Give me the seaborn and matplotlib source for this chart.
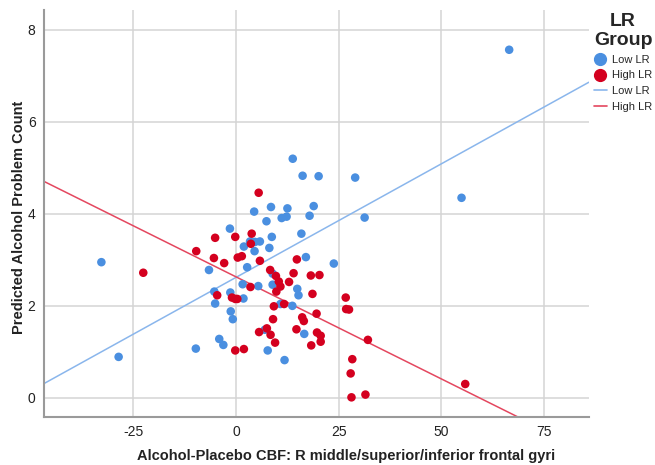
import matplotlib
matplotlib.use("Agg")
import matplotlib.pyplot as plt
from matplotlib.lines import Line2D
import pandas as pd
import seaborn as sns

# Low LR group (CBF difference, predicted count)
low_x = [66.5, 54.9, -32.8, -28.6, -9.8, 13.8, 16.2, 20.1, 29.0, 8.5, 4.4, 12.5, 18.9,
         7.4, 11.1, 12.3, 17.9, 31.3, -1.5, 8.7, 15.9, 3.4, 4.6, 5.8, 1.9, 8.1, 4.5,
         17.0, 23.8, -6.6, 2.7, 8.9, 1.6, 5.4, 8.9, 14.9, 15.2, -5.3, -1.4, 1.8, -5.1,
         10.8, 13.7, -1.3, -0.8, 7.0, 16.6, -4.1, -3.1, 7.7, 11.8]
low_y = [7.57, 4.35, 2.95, 0.89, 1.07, 5.20, 4.83, 4.82, 4.79, 4.15, 4.05, 4.12, 4.17,
         3.84, 3.91, 3.94, 3.96, 3.92, 3.68, 3.50, 3.57, 3.40, 3.39, 3.40, 3.29, 3.26, 3.19,
         3.06, 2.92, 2.78, 2.84, 2.70, 2.47, 2.43, 2.46, 2.37, 2.23, 2.31, 2.29, 2.16, 2.05,
         2.04, 2.00, 1.88, 1.71, 1.48, 1.39, 1.28, 1.15, 1.03, 0.82]

# High LR group
high_x = [55.8, -22.6, -9.7, 5.5, -5.1, -0.2, 3.8, 3.6, -5.4, -2.9, 0.4, 1.4, 5.8, 14.8,
          8.3, 9.7, 10.4, 10.8, 9.8, 14.0, 18.2, 20.3, 12.9, 18.6, 3.5, -4.6, -1.0, -0.2,
          0.3, 11.7, 9.2, 26.7, 26.8, 27.5, 19.6, 9.0, 16.1, 16.5, 14.7, 5.6, 7.5, 8.4,
          19.7, 20.6, 20.6, 9.5, -0.2, 1.9, 18.3, 32.1, 28.3, 27.9, 28.1, 31.5]
high_y = [0.30, 2.72, 3.19, 4.46, 3.48, 3.50, 3.57, 3.35, 3.04, 2.93, 3.05, 3.08, 2.98, 3.01,
          2.78, 2.65, 2.53, 2.42, 2.31, 2.71, 2.66, 2.67, 2.52, 2.26, 2.41, 2.23, 2.18, 2.15,
          2.15, 2.04, 1.99, 2.18, 1.93, 1.92, 1.83, 1.71, 1.75, 1.67, 1.49, 1.43, 1.51, 1.37,
          1.42, 1.35, 1.22, 1.20, 1.03, 1.06, 1.14, 1.26, 0.84, 0.53, 0.01, 0.07]

# fit lines per group (intercept, slope)
groups = ["Low LR", "High LR"]
fit_intercept = [2.62, 2.63]
fit_slope = [0.0494, -0.0444]

point_colors = {"Low LR": "#4a8fe0", "High LR": "#d4001f"}
line_colors = {"Low LR": "#8ab6ec", "High LR": "#e4475f"}

df = pd.DataFrame({
    "cbf": low_x + high_x,
    "count": low_y + high_y,
    "group": ["Low LR"] * len(low_x) + ["High LR"] * len(high_x),
})

sns.set_style("white")
plt.rcParams["font.family"] = ["Liberation Sans", "DejaVu Sans"]
plt.rcParams["axes.unicode_minus"] = False

fig = plt.figure(figsize=(6.55, 4.65), dpi=100)
ax = fig.add_axes([0.067, 0.103, 0.832, 0.875])

ax.set_xlim(-46.8, 85.9)
ax.set_ylim(-0.42, 8.43)
ax.set_xticks([-25, 0, 25, 50, 75])
ax.set_yticks([0, 2, 4, 6, 8])
ax.grid(True, color="#d4d4d4", linewidth=1.1)
ax.set_axisbelow(True)

sns.scatterplot(data=df, x="cbf", y="count", hue="group", palette=point_colors,
                s=38, edgecolor="none", legend=False, ax=ax, zorder=3)

xs = list(ax.get_xlim())
for g, b, m in zip(groups, fit_intercept, fit_slope):
    sns.lineplot(x=xs, y=[b + m * v for v in xs], color=line_colors[g],
                 linewidth=1.1, ax=ax, zorder=2)
ax.set_xlim(-46.8, 85.9)
ax.set_ylim(-0.42, 8.43)

for s in ["top", "right"]:
    ax.spines[s].set_visible(False)
for s in ["left", "bottom"]:
    ax.spines[s].set_color("#9a9a9a")
    ax.spines[s].set_linewidth(1.5)
ax.tick_params(length=0, labelsize=10, colors="#222222", pad=6)

ax.set_xlabel("Alcohol-Placebo CBF: R middle/superior/inferior frontal gyri",
              fontsize=10.5, fontweight="bold", color="#222222")
ax.set_ylabel("Predicted Alcohol Problem Count", fontsize=10.5,
              fontweight="bold", color="#222222")
ax.xaxis.set_label_coords(0.554, -0.078)
ax.yaxis.set_label_coords(-0.033, 0.49)

handles = [
    Line2D([], [], marker="o", linestyle="none", color=point_colors["Low LR"], markersize=8.5),
    Line2D([], [], marker="o", linestyle="none", color=point_colors["High LR"], markersize=8.5),
    Line2D([], [], color=line_colors["Low LR"], linewidth=1.2),
    Line2D([], [], color=line_colors["High LR"], linewidth=1.2),
]
leg = fig.legend(handles, ["Low LR", "High LR", "Low LR", "High LR"],
                 title="LR\nGroup", loc="upper left", bbox_to_anchor=(0.905, 0.975),
                 frameon=False, fontsize=8, handlelength=1.1, handletextpad=0.5,
                 labelspacing=0.5, borderaxespad=0, borderpad=0.1,
                 title_fontproperties={"weight": "bold", "size": 14})
leg._legend_box.align = "right"
leg.get_title().set_multialignment("center")

fig.savefig("out.png", dpi=100)
